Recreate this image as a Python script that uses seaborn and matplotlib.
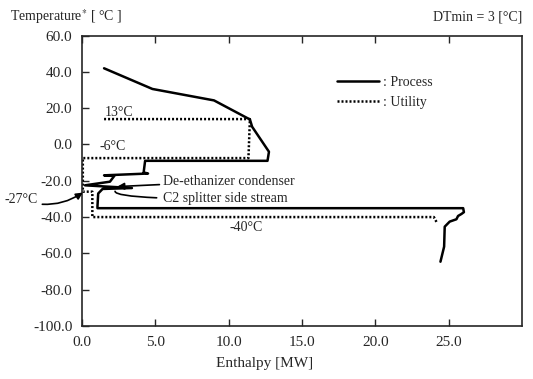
import pandas as pd
import seaborn as sns
import matplotlib.pyplot as plt

# ---------- data ----------
process_h = [1.5, 4.8, 9.0, 11.45, 11.6, 12.75, 12.65, 4.3, 4.2, 4.5, 1.5, 2.2, 1.9, 0.2,
             3.4, 1.4, 1.1, 1.05, 1.05, 26.0, 26.05, 25.88, 25.65, 25.54, 25.08,
             24.74, 24.7, 24.45]
process_t = [42.0, 30.6, 24.3, 13.8, 9.8, -4.0, -9.0, -9.0, -15.4, -16.0, -17.0, -17.3,
             -20.5, -22.5, -24.0, -24.5, -27.0, -34.0, -35.1, -35.1, -37.3, -38.3, -39.4,
             -41.2, -42.5, -45.3, -56.3, -64.6]

utility_h = [1.5, 11.45, 11.35, 0.05, 0.05, 0.7, 0.7, 24.0, 24.2]
utility_t = [14.0, 14.0, -7.5, -7.5, -26.0, -26.0, -40.0, -40.0, -43.0]

x_ticks = [0.0, 5.0, 10.0, 15.0, 20.0, 25.0]
y_ticks = [60.0, 40.0, 20.0, 0.0, -20.0, -40.0, -60.0, -80.0, -100.0]

# ---------- style ----------
sns.set_style("ticks")
plt.rcParams["font.family"] = ["Liberation Serif", "DejaVu Serif"]
plt.rcParams["mathtext.fontset"] = "stix"

process = pd.DataFrame({"H": process_h, "T": process_t})
utility = pd.DataFrame({"H": utility_h, "T": utility_t})

fig = plt.figure(figsize=(5.33, 3.79), dpi=100)
ax = fig.add_axes([0.154, 0.140, 0.825, 0.766])

sns.lineplot(data=process, x="H", y="T", sort=False, estimator=None, color="black",
             lw=1.8, label=": Process", ax=ax)
sns.lineplot(data=utility, x="H", y="T", sort=False, estimator=None, color="black",
             lw=1.8, linestyle=(0, (0.8, 0.8)), label=": Utility", ax=ax)

ax.set_xlim(0, 30)
ax.set_ylim(-100, 60)
ax.set_xticks(x_ticks)
ax.set_xticklabels([f"{v:.1f}" for v in x_ticks])
ax.set_yticks(y_ticks)
ax.set_yticklabels([f"{v:.1f}" for v in y_ticks])
ax.tick_params(direction="in", length=5, width=1, labelsize=11, pad=7,
               top=True, right=False)
for s in ax.spines.values():
    s.set_linewidth(1.2)
    s.set_visible(True)

ax.set_xlabel("Enthalpy [MW]", fontsize=11)
ax.xaxis.set_label_coords(0.416, -0.107)
ax.set_ylabel("")

ax.legend(frameon=False, loc="upper left", bbox_to_anchor=(0.58, 0.86),
          borderaxespad=0, borderpad=0, handlelength=3.0, handletextpad=0.3,
          fontsize=10, labelspacing=0.45)

# ---------- labels ----------
ax.text(2.5, 17.5, "13°C", fontsize=10, ha="center", va="center")
ax.text(2.1, -1.0, "-6°C", fontsize=10, ha="center", va="center")
ax.text(11.2, -45.5, "-40°C", fontsize=10, ha="center", va="center")

ax.annotate("De-ethanizer condenser", xy=(2.4, -23.2), xytext=(5.5, -20.3),
            fontsize=10, va="center",
            arrowprops=dict(arrowstyle="-|>", color="black", lw=1.2,
                            shrinkA=0, shrinkB=0))
ax.annotate("C2 splitter side stream", xy=(2.25, -25.8), xytext=(5.5, -30.0),
            fontsize=10, va="center",
            arrowprops=dict(arrowstyle="-", color="black", lw=1.2,
                            connectionstyle="angle3,angleA=0,angleB=90",
                            shrinkA=2, shrinkB=0))
ax.annotate("-27°C", xy=(0.05, -26.5), xytext=(-5.3, -30.5),
            fontsize=10, va="center", annotation_clip=False,
            arrowprops=dict(arrowstyle="-|>", color="black", lw=1.2,
                            connectionstyle="arc3,rad=0.25", shrinkA=1, shrinkB=0))

fig.text(0.019, 0.955, "Temperature$^{*}$ [ °C ]", fontsize=10, va="center")
fig.text(0.979, 0.955, "DTmin = 3 [°C]", fontsize=10, va="center", ha="right")

fig.savefig("out.png", dpi=100)
